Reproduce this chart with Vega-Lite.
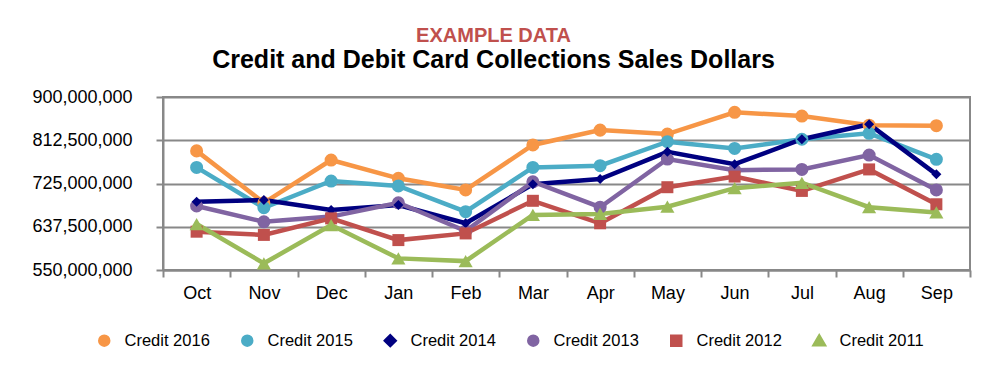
{
  "$schema": "https://vega.github.io/schema/vega-lite/v6.json",
  "width": 807,
  "height": 173,
  "autosize": "none",
  "padding": {"left": 163, "top": 97, "right": 30, "bottom": 110},
  "background": "white",
  "config": {
    "font": "Liberation Sans",
    "view": {"stroke": "#888888", "strokeWidth": 2}
  },
  "title": {
    "text": "EXAMPLE DATA",
    "subtitle": "Credit and Debit Card Collections Sales Dollars",
    "anchor": "middle",
    "frame": "group",
    "dx": -73,
    "offset": 15,
    "font": "Liberation Sans",
    "fontSize": 20,
    "fontWeight": "bold",
    "color": "#C0504D",
    "subtitleFont": "Liberation Sans",
    "subtitleFontSize": 25,
    "subtitleFontWeight": "bold",
    "subtitleColor": "#000000",
    "subtitlePadding": 2
  },
  "data": {
    "values": [
      {"month": "Oct", "series": "Credit 2016", "value": 791000000},
      {"month": "Nov", "series": "Credit 2016", "value": 686000000},
      {"month": "Dec", "series": "Credit 2016", "value": 772500000},
      {"month": "Jan", "series": "Credit 2016", "value": 735500000},
      {"month": "Feb", "series": "Credit 2016", "value": 712000000},
      {"month": "Mar", "series": "Credit 2016", "value": 803000000},
      {"month": "Apr", "series": "Credit 2016", "value": 833000000},
      {"month": "May", "series": "Credit 2016", "value": 825000000},
      {"month": "Jun", "series": "Credit 2016", "value": 869000000},
      {"month": "Jul", "series": "Credit 2016", "value": 861500000},
      {"month": "Aug", "series": "Credit 2016", "value": 843000000},
      {"month": "Sep", "series": "Credit 2016", "value": 842000000},
      {"month": "Oct", "series": "Credit 2015", "value": 757500000},
      {"month": "Nov", "series": "Credit 2015", "value": 676000000},
      {"month": "Dec", "series": "Credit 2015", "value": 730000000},
      {"month": "Jan", "series": "Credit 2015", "value": 720000000},
      {"month": "Feb", "series": "Credit 2015", "value": 668000000},
      {"month": "Mar", "series": "Credit 2015", "value": 757500000},
      {"month": "Apr", "series": "Credit 2015", "value": 761000000},
      {"month": "May", "series": "Credit 2015", "value": 809500000},
      {"month": "Jun", "series": "Credit 2015", "value": 796000000},
      {"month": "Jul", "series": "Credit 2015", "value": 814500000},
      {"month": "Aug", "series": "Credit 2015", "value": 826500000},
      {"month": "Sep", "series": "Credit 2015", "value": 774000000},
      {"month": "Oct", "series": "Credit 2014", "value": 688000000},
      {"month": "Nov", "series": "Credit 2014", "value": 691500000},
      {"month": "Dec", "series": "Credit 2014", "value": 671500000},
      {"month": "Jan", "series": "Credit 2014", "value": 681500000},
      {"month": "Feb", "series": "Credit 2014", "value": 644500000},
      {"month": "Mar", "series": "Credit 2014", "value": 723500000},
      {"month": "Apr", "series": "Credit 2014", "value": 734000000},
      {"month": "May", "series": "Credit 2014", "value": 789000000},
      {"month": "Jun", "series": "Credit 2014", "value": 764000000},
      {"month": "Jul", "series": "Credit 2014", "value": 814500000},
      {"month": "Aug", "series": "Credit 2014", "value": 845000000},
      {"month": "Sep", "series": "Credit 2014", "value": 743500000},
      {"month": "Oct", "series": "Credit 2013", "value": 679500000},
      {"month": "Nov", "series": "Credit 2013", "value": 647500000},
      {"month": "Dec", "series": "Credit 2013", "value": 658000000},
      {"month": "Jan", "series": "Credit 2013", "value": 686000000},
      {"month": "Feb", "series": "Credit 2013", "value": 629000000},
      {"month": "Mar", "series": "Credit 2013", "value": 728500000},
      {"month": "Apr", "series": "Credit 2013", "value": 677000000},
      {"month": "May", "series": "Credit 2013", "value": 774500000},
      {"month": "Jun", "series": "Credit 2013", "value": 752000000},
      {"month": "Jul", "series": "Credit 2013", "value": 753500000},
      {"month": "Aug", "series": "Credit 2013", "value": 782500000},
      {"month": "Sep", "series": "Credit 2013", "value": 712000000},
      {"month": "Oct", "series": "Credit 2012", "value": 627500000},
      {"month": "Nov", "series": "Credit 2012", "value": 621000000},
      {"month": "Dec", "series": "Credit 2012", "value": 654500000},
      {"month": "Jan", "series": "Credit 2012", "value": 610500000},
      {"month": "Feb", "series": "Credit 2012", "value": 624000000},
      {"month": "Mar", "series": "Credit 2012", "value": 690000000},
      {"month": "Apr", "series": "Credit 2012", "value": 644500000},
      {"month": "May", "series": "Credit 2012", "value": 717500000},
      {"month": "Jun", "series": "Credit 2012", "value": 739000000},
      {"month": "Jul", "series": "Credit 2012", "value": 710000000},
      {"month": "Aug", "series": "Credit 2012", "value": 753500000},
      {"month": "Sep", "series": "Credit 2012", "value": 683000000},
      {"month": "Oct", "series": "Credit 2011", "value": 643000000},
      {"month": "Nov", "series": "Credit 2011", "value": 563500000},
      {"month": "Dec", "series": "Credit 2011", "value": 641000000},
      {"month": "Jan", "series": "Credit 2011", "value": 573500000},
      {"month": "Feb", "series": "Credit 2011", "value": 568000000},
      {"month": "Mar", "series": "Credit 2011", "value": 661500000},
      {"month": "Apr", "series": "Credit 2011", "value": 663500000},
      {"month": "May", "series": "Credit 2011", "value": 678000000},
      {"month": "Jun", "series": "Credit 2011", "value": 715500000},
      {"month": "Jul", "series": "Credit 2011", "value": 726500000},
      {"month": "Aug", "series": "Credit 2011", "value": 677000000},
      {"month": "Sep", "series": "Credit 2011", "value": 666500000}
    ]
  },
  "encoding": {
    "x": {
      "field": "month",
      "type": "nominal",
      "sort": ["Oct", "Nov", "Dec", "Jan", "Feb", "Mar", "Apr", "May", "Jun", "Jul", "Aug", "Sep"],
      "scale": {"type": "band", "paddingInner": 0, "paddingOuter": 0},
      "axis": {
        "title": null,
        "labelAngle": 0,
        "labelFontSize": 18,
        "labelColor": "#000000",
        "labelPadding": 7,
        "tickBand": "extent",
        "tickSize": 7,
        "tickColor": "#888888",
        "tickWidth": 2,
        "domainColor": "#888888",
        "domainWidth": 2,
        "grid": false
      }
    },
    "y": {
      "field": "value",
      "type": "quantitative",
      "scale": {"domain": [550000000, 900000000], "nice": false, "zero": false},
      "axis": {
        "title": null,
        "values": [550000000, 637500000, 725000000, 812500000, 900000000],
        "format": ",.0f",
        "labelFontSize": 18,
        "labelColor": "#000000",
        "labelPadding": 24,
        "tickSize": 7,
        "tickColor": "#888888",
        "tickWidth": 2,
        "domainColor": "#888888",
        "domainWidth": 2,
        "grid": true,
        "gridColor": "#888888",
        "gridWidth": 2
      }
    },
    "color": {
      "field": "series",
      "type": "nominal",
      "scale": {
        "domain": ["Credit 2016", "Credit 2015", "Credit 2014", "Credit 2013", "Credit 2012", "Credit 2011"],
        "range": ["#F79646", "#4BACC6", "#000080", "#8064A2", "#C0504D", "#9BBB59"]
      },
      "legend": {
        "title": null,
        "orient": "none",
        "direction": "horizontal",
        "columns": 6,
        "legendX": -67,
        "legendY": 235,
        "padding": 0,
        "labelFontSize": 16.5,
        "labelColor": "#000000",
        "labelFont": "Liberation Sans",
        "labelOffset": 12,
        "columnPadding": 24,
        "symbolSize": 64,
        "symbolStrokeWidth": 0,
        "encode": {
          "symbols": {"update": {"size": {"value": 64}}}
        }
      }
    },
    "shape": {
      "field": "series",
      "type": "nominal",
      "scale": {
        "domain": ["Credit 2016", "Credit 2015", "Credit 2014", "Credit 2013", "Credit 2012", "Credit 2011"],
        "range": ["circle", "circle", "diamond", "circle", "square", "triangle-up"]
      }
    }
  },
  "layer": [
    {
      "mark": {"type": "line"},
      "encoding": {
        "shape": null,
        "strokeWidth": {
          "field": "series",
          "type": "nominal",
          "scale": {
            "domain": ["Credit 2016", "Credit 2015", "Credit 2014", "Credit 2013", "Credit 2012", "Credit 2011"],
            "range": [4.5, 4.5, 2.2, 4.5, 4.5, 4.5]
          },
          "legend": null
        }
      }
    },
    {
      "transform": [{"filter": {"field": "series", "oneOf": ["Credit 2016", "Credit 2015", "Credit 2013"]}}],
      "mark": {"type": "point", "filled": true, "opacity": 1, "size": 170}
    },
    {
      "transform": [{"filter": {"field": "series", "equal": "Credit 2014"}}],
      "mark": {"type": "point", "filled": true, "opacity": 1, "size": 100}
    },
    {
      "transform": [{"filter": {"field": "series", "equal": "Credit 2012"}}],
      "mark": {"type": "point", "filled": true, "opacity": 1, "size": 144}
    },
    {
      "transform": [{"filter": {"field": "series", "equal": "Credit 2011"}}],
      "mark": {"type": "point", "filled": true, "opacity": 1, "size": 200}
    }
  ]
}
